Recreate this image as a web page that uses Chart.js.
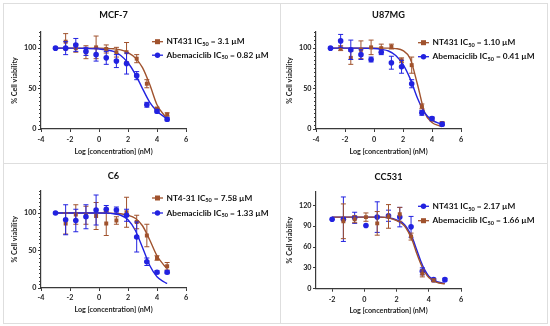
<!DOCTYPE html>
<html>
<head>
<meta charset="utf-8">
<script src="https://cdn.jsdelivr.net/npm/chart.js@4.4.1/dist/chart.umd.min.js"></script>
<style>
  body { margin: 0; background: #fff; }
  #wrap { position: relative; width: 550px; height: 326px; background: #fff; overflow: hidden; }
  .rule { position: absolute; background: #dedede; }
  canvas { position: absolute; }
</style>
</head>
<body>
<div id="wrap">
  <div class="rule" style="left:3px;top:3px;width:545px;height:1px"></div>
  <div class="rule" style="left:3px;top:323px;width:545px;height:1px"></div>
  <div class="rule" style="left:3px;top:3px;width:1px;height:321px"></div>
  <div class="rule" style="left:547px;top:3px;width:1px;height:321px"></div>
  <div class="rule" style="left:280px;top:3px;width:1px;height:321px"></div>
  <div class="rule" style="left:3px;top:163px;width:545px;height:1px"></div>
  <canvas id="mcf7" width="275" height="163" style="left:0;top:0"></canvas>
  <canvas id="u87" width="275" height="163" style="left:275px;top:0"></canvas>
  <canvas id="c6" width="275" height="163" style="left:0;top:163px"></canvas>
  <canvas id="cc531" width="275" height="163" style="left:275px;top:163px"></canvas>
</div>
<script>
// log10 of concentration (nM), 5-fold dilutions
const logConc = [-3.0, -2.3, -1.6, -0.9, -0.2, 0.5, 1.2, 1.9, 2.6, 3.3, 4.0, 4.7];
const logConcCC = [-2.0, -1.3, -0.6, 0.1, 0.8, 1.5, 2.2, 2.9, 3.6, 4.3, 5.0];
const fitX = [-3, -2, -1, 0, 0.5, 1, 1.5, 2, 2.5, 3, 3.5, 4, 4.5, 4.7];
const fitXCC = [-2, -1, 0, 1, 1.5, 2, 2.5, 3, 3.25, 3.5, 3.75, 4, 4.5, 5];

const xTicks = [-4, -2, 0, 2, 4, 6];
const xTicksCC = [-2, 0, 2, 4, 6];
const yTicks = [0, 50, 100];
const yTicksCC = [0, 30, 60, 90, 120];

// MCF-7
const mcf7Nt431 = [null, 108, 100, 95, 101, 99, 95, 95, 87, 56, 25, 18];
const mcf7Nt431Err = [0, 10, 5, 8, 14, 5, 6, 12, 5, 5, 2, 2];
const mcf7Abema = [100, 100, 104, 96, 92, 88, 84, 81, 66, 30, 22, 12];
const mcf7AbemaErr = [0, 8, 8, 5, 8, 8, 8, 13, 5, 3, 2, 2];
const mcf7Nt431Fit = [100, 100, 100, 100, 99.8, 99.2, 97.8, 94.5, 88, 76, 55, 30, 17, 14];
const mcf7AbemaFit = [100, 100, 99.8, 99, 98, 96, 91, 82, 68, 50, 33, 22, 15, 13];

// U87MG
const u87Nt431 = [null, 100, 88, 98, 101, 100, 102, 85, 79, 28, 12, 7];
const u87Nt431Err = [0, 3, 8, 11, 9, 5, 3, 3, 10, 3, 2, 2];
const u87Abema = [100, 109, 98, 92, 86, 95, 82, 77, 56, 20, 13, 6];
const u87AbemaErr = [0, 8, 12, 6, 3, 3, 8, 8, 5, 3, 2, 2];
const u87Nt431Fit = [100, 100, 100, 100, 100, 100, 99.5, 97, 87, 55, 20, 8, 4, 3];
const u87AbemaFit = [100, 100, 100, 99.5, 98.5, 96.5, 91, 80, 62, 38, 20, 11, 7, 6];

// C6
const c6Nt431 = [null, 86, 98, 97, 96, 86, 90, 101, 88, 70, 40, 29];
const c6Nt431Err = [0, 14, 13, 12, 18, 16, 5, 20, 9, 15, 3, 5];
const c6Abema = [100, 91, 90, 95, 104, 105, 104, 97, 68, 35, 21, 21];
const c6AbemaErr = [0, 20, 15, 16, 20, 5, 4, 8, 20, 5, 2, 2];
const c6Nt431Fit = [100, 100, 100, 100, 100, 99.5, 99, 97, 93, 83, 64, 43, 30, 26];
const c6AbemaFit = [100, 100, 100, 100, 99.8, 99, 97, 91, 77, 54, 30, 15, 8, 6];

// CC531
const ccNt431 = [100, 100, 102, 91, 103, 105, 103, 89, 25, 13, 13];
const ccNt431Err = [0, 32, 8, 0, 22, 8, 14, 15, 5, 2, 2];
const ccAbema = [null, 97, 100, 103, 94, 104, 107, 75, 22, 12, null];
const ccAbemaErr = [0, 25, 5, 6, 17, 17, 10, 5, 5, 2, 0];
const ccNt431Fit = [103, 103, 103, 103, 102, 99, 92, 72, 56, 40, 27, 18, 10, 8];
const ccAbemaFit = [103, 103, 103, 103, 102, 98, 90, 68, 51, 36, 24, 16, 9, 7];

const BROWN = '#a0522d';
const BLUE = '#2222e0';
const AXIS = '#3a3a3a';
const FONT = 'Lato';

Chart.defaults.font.family = FONT;
Chart.defaults.font.weight = 'bold';
Chart.defaults.color = '#222';

function pts(xs, ys) {
  return xs.map((x, i) => ({ x: x, y: ys[i] })).filter(p => p.y !== null);
}

// error bars drawn just under each dataset's markers
const errorBars = {
  id: 'errorBars',
  beforeDatasetDraw(chart, args) {
    const ds = chart.data.datasets[args.index];
    if (!ds.errors) return;
    const ctx = chart.ctx, xs = chart.scales.x, ys = chart.scales.y;
    ctx.save();
    ctx.strokeStyle = ds.borderColor;
    ctx.lineWidth = 1;
    ds.data.forEach((p, i) => {
      const e = ds.errors[i];
      if (!e) return;
      const px = xs.getPixelForValue(p.x);
      const top = ys.getPixelForValue(p.y + e);
      const bot = ys.getPixelForValue(p.y - e);
      ctx.beginPath();
      ctx.moveTo(px, top); ctx.lineTo(px, bot);
      ctx.moveTo(px - 2.5, top); ctx.lineTo(px + 2.5, top);
      ctx.moveTo(px - 2.5, bot); ctx.lineTo(px + 2.5, bot);
      ctx.stroke();
    });
    ctx.restore();
  }
};

// short minor ticks on the y axis
const minorTicks = {
  id: 'minorTicks',
  afterDraw(chart, args, opts) {
    if (!opts.step) return;
    const ys = chart.scales.y, ctx = chart.ctx, left = chart.chartArea.left;
    ctx.save();
    ctx.strokeStyle = AXIS;
    ctx.lineWidth = 1;
    for (let v = ys.min; v <= ys.max + 0.001; v += opts.step) {
      if (opts.major.includes(v)) continue;
      const py = Math.round(ys.getPixelForValue(v)) + 0.5;
      ctx.beginPath();
      ctx.moveTo(left - 2, py); ctx.lineTo(left, py);
      ctx.stroke();
    }
    ctx.restore();
  }
};

// panel title centred over the plot area
const panelTitle = {
  id: 'panelTitle',
  afterDraw(chart, args, opts) {
    const ctx = chart.ctx, a = chart.chartArea;
    ctx.save();
    ctx.font = 'bold 9.2px ' + FONT;
    ctx.fillStyle = '#111';
    ctx.textAlign = 'center';
    ctx.textBaseline = 'middle';
    ctx.fillText(opts.text, (a.left + a.right) / 2, opts.y);
    ctx.restore();
  }
};

// legend with IC50 subscript
const icLegend = {
  id: 'icLegend',
  afterDraw(chart, args, opts) {
    const ctx = chart.ctx;
    opts.items.forEach((it, r) => {
      const ds = chart.data.datasets[it.ds];
      const y = opts.y + r * opts.gap;
      const x0 = opts.x, x1 = opts.x + 11;
      ctx.save();
      ctx.strokeStyle = ds.borderColor;
      ctx.lineWidth = 1.3;
      ctx.beginPath(); ctx.moveTo(x0, y); ctx.lineTo(x1, y); ctx.stroke();
      ctx.fillStyle = ds.backgroundColor;
      const mx = (x0 + x1) / 2;
      if (ds.pointStyle === 'rect') {
        ctx.fillRect(mx - 2.5, y - 2.5, 5, 5);
      } else {
        ctx.beginPath(); ctx.arc(mx, y, 2.7, 0, Math.PI * 2); ctx.fill();
      }
      ctx.fillStyle = '#111';
      ctx.textBaseline = 'middle';
      let tx = x1 + 3.5;
      ctx.font = 'bold 8.3px ' + FONT;
      const a = it.name + ' IC';
      ctx.fillText(a, tx, y);
      tx += ctx.measureText(a).width;
      ctx.font = 'bold 5.6px ' + FONT;
      ctx.fillText('50', tx, y + 2.4);
      tx += ctx.measureText('50').width;
      ctx.font = 'bold 8.3px ' + FONT;
      ctx.fillText(' = ' + it.ic50 + ' \u00b5M', tx, y);
      ctx.restore();
    });
  }
};

function pointSet(xs, ys, errs, color, style) {
  const data = [], e = [];
  xs.forEach((x, i) => { if (ys[i] !== null) { data.push({ x: x, y: ys[i] }); e.push(errs[i]); } });
  return {
    data: data, errors: e, showLine: false,
    pointStyle: style, pointRadius: 2.8,
    backgroundColor: color, borderColor: color, borderWidth: 0
  };
}

function fitSet(xs, ys, color) {
  return {
    data: pts(xs, ys), showLine: true, pointRadius: 0,
    borderColor: color, backgroundColor: color, borderWidth: 1.4,
    cubicInterpolationMode: 'monotone', fill: false
  };
}

function makePanel(id, g) {
  new Chart(document.getElementById(id), {
    type: 'scatter',
    data: { datasets: g.datasets },
    options: {
      responsive: false, animation: false, devicePixelRatio: 1,
      layout: { padding: { left: 0, top: g.top, right: 275 - g.right, bottom: 0 } },
      plugins: {
        legend: { display: false }, tooltip: { enabled: false },
        panelTitle: { text: g.title, y: g.titleY },
        icLegend: g.legend,
        minorTicks: { step: g.minor, major: g.yTicks }
      },
      scales: {
        x: {
          type: 'linear', min: g.xMin, max: 6,
          afterFit: s => { s.height = 163 - g.bottom; },
          afterBuildTicks: s => { s.ticks = g.xTicks.map(v => ({ value: v })); },
          grid: { drawOnChartArea: false, drawTicks: true, tickLength: 3, tickColor: AXIS, tickWidth: 1 },
          border: { display: true, color: AXIS, width: 1.2 },
          ticks: { padding: g.xPad, font: { size: 7.2, weight: 'bold' }, color: '#222', maxRotation: 0 },
          title: { display: true, text: 'Log [concentration] (nM)', font: { size: 7.2, weight: 'bold' }, color: '#222', padding: { top: 0, bottom: g.xTitlePad } }
        },
        y: {
          type: 'linear', min: 0, max: g.yMax,
          afterFit: s => { s.width = g.left; },
          afterBuildTicks: s => { s.ticks = g.yTicks.map(v => ({ value: v })); },
          grid: { drawOnChartArea: false, drawTicks: true, tickLength: 3, tickColor: AXIS, tickWidth: 1 },
          border: { display: true, color: AXIS, width: 1.2 },
          ticks: { padding: 1.5, font: { size: 7.2, weight: 'bold' }, color: '#222' },
          title: { display: true, text: '% Cell viability', font: { size: 7.2, weight: 'bold' }, color: '#222', padding: { top: 10.5, bottom: 0 } }
        }
      }
    },
    plugins: [errorBars, minorTicks, panelTitle, icLegend]
  });
}

makePanel('mcf7', {
  title: 'MCF-7', titleY: 15, left: 41, right: 186, top: 32, bottom: 129,
  xMin: -4, yMax: 120, xTicks: xTicks, yTicks: yTicks, minor: 5, xPad: 3.5, xTitlePad: 7.5,
  datasets: [
    pointSet(logConc, mcf7Abema, mcf7AbemaErr, BLUE, 'circle'),
    pointSet(logConc, mcf7Nt431, mcf7Nt431Err, BROWN, 'rect'),
    fitSet(fitX, mcf7AbemaFit, BLUE),
    fitSet(fitX, mcf7Nt431Fit, BROWN)
  ],
  legend: { x: 152, y: 41.7, gap: 13.5, items: [{ ds: 1, name: 'NT431', ic50: '3.1' }, { ds: 0, name: 'Abemaciclib', ic50: '0.82' }] }
});

makePanel('u87', {
  title: 'U87MG', titleY: 15, left: 41, right: 186, top: 32, bottom: 129,
  xMin: -4, yMax: 120, xTicks: xTicks, yTicks: yTicks, minor: 5, xPad: 3.5, xTitlePad: 7.5,
  datasets: [
    pointSet(logConc, u87Abema, u87AbemaErr, BLUE, 'circle'),
    pointSet(logConc, u87Nt431, u87Nt431Err, BROWN, 'rect'),
    fitSet(fitX, u87AbemaFit, BLUE),
    fitSet(fitX, u87Nt431Fit, BROWN)
  ],
  legend: { x: 143, y: 42.7, gap: 14, items: [{ ds: 1, name: 'NT431', ic50: '1.10' }, { ds: 0, name: 'Abemaciclib', ic50: '0.41' }] }
});

makePanel('c6', {
  title: 'C6', titleY: 12.7, left: 41, right: 186, top: 27.5, bottom: 125,
  xMin: -4, yMax: 130, xTicks: xTicks, yTicks: yTicks, minor: 5, xPad: 2.5, xTitlePad: 12.5,
  datasets: [
    pointSet(logConc, c6Abema, c6AbemaErr, BLUE, 'circle'),
    pointSet(logConc, c6Nt431, c6Nt431Err, BROWN, 'rect'),
    fitSet(fitX, c6AbemaFit, BLUE),
    fitSet(fitX, c6Nt431Fit, BROWN)
  ],
  legend: { x: 152, y: 35, gap: 15, items: [{ ds: 1, name: 'NT4-31', ic50: '7.58' }, { ds: 0, name: 'Abemaciclib', ic50: '1.33' }] }
});

makePanel('cc531', {
  title: 'CC531', titleY: 14, left: 41, right: 186, top: 28.4, bottom: 125.7,
  xMin: -3, yMax: 140, xTicks: xTicksCC, yTicks: yTicksCC, minor: 0, xPad: 3.5, xTitlePad: 11.5,
  datasets: [
    pointSet(logConcCC, ccAbema, ccAbemaErr, BROWN, 'rect'),
    pointSet(logConcCC, ccNt431, ccNt431Err, BLUE, 'circle'),
    fitSet(fitXCC, ccAbemaFit, BROWN),
    fitSet(fitXCC, ccNt431Fit, BLUE)
  ],
  legend: { x: 143, y: 43.3, gap: 14.4, items: [{ ds: 1, name: 'NT431', ic50: '2.17' }, { ds: 0, name: 'Abemaciclib', ic50: '1.66' }] }
});
</script>
</body>
</html>
